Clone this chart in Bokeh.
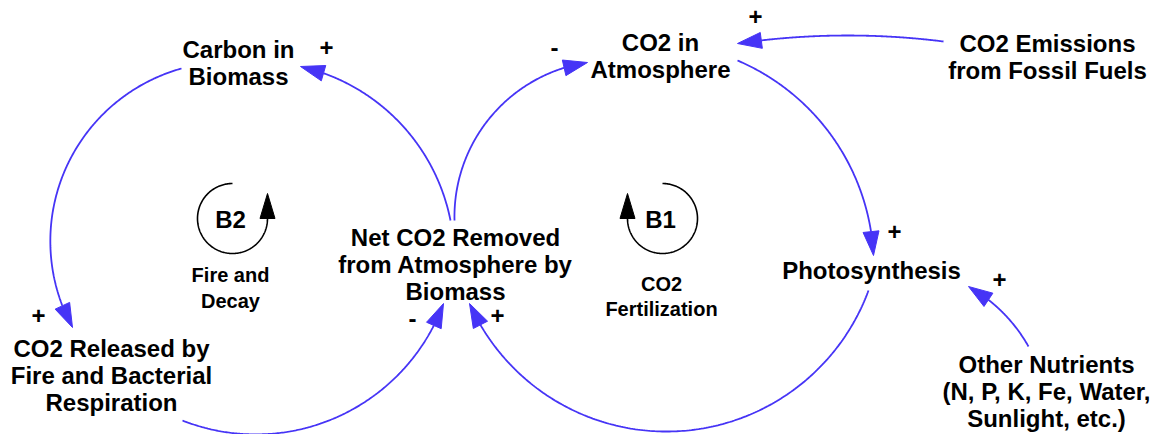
import numpy as np
from bokeh.plotting import figure
from bokeh.models import Range1d
from bokeh.core.properties import value
from bokeh.embed import file_html
from bokeh.resources import INLINE

# ---------------- data (content of the causal loop diagram) ----------------
node_ids = ["carbon", "atm", "emis", "photo", "nutr", "net", "released"]
node_labels = [
    "Carbon in\nBiomass",
    "CO2 in\nAtmosphere",
    "CO2 Emissions\nfrom Fossil Fuels",
    "Photosynthesis",
    "Other Nutrients\n(N, P, K, Fe, Water,\nSunlight, etc.)",
    "Net CO2 Removed\nfrom Atmosphere by\nBiomass",
    "CO2 Released by\nFire and Bacterial\nRespiration",
]
link_source = ["net", "carbon", "released", "net", "atm", "photo", "emis", "nutr"]
link_target = ["carbon", "released", "net", "atm", "photo", "net", "atm", "photo"]
link_polarity = ["+", "+", "-", "-", "+", "+", "+", "+"]
loop_names = ["B2", "B1"]
loop_labels = ["Fire and\nDecay", "CO2\nFertilization"]
loop_turn = ["ccw", "cw"]

# ---------------- layout (screen pixel positions, y downward) ----------------
node_pos = {
    "carbon": (238, 62), "atm": (660, 55), "emis": (1047, 56),
    "photo": (871, 270), "nutr": (1046, 391), "net": (455, 264),
    "released": (111, 375),
}
# start point, a point on the curve, arrow tip
link_geom = [
    ((450, 220), (400, 123), (300, 66)),
    ((181, 68), (50, 233), (72, 327)),
    ((182, 420), (350, 410), (443, 303)),
    ((454, 220), (480, 130), (587, 62)),
    ((737, 60), (853, 173), (873, 255)),
    ((868, 290), (663, 431), (469, 303)),
    ((943, 41), (850, 35), (737, 43)),
    ((1028, 346), (1007, 317), (968, 286)),
]
pol_pos = [(326, 47), (38, 315), (412, 318), (554, 47), (894, 231),
           (497, 315), (755, 16), (999, 279)]
loop_center = [(232, 218), (662, 218)]
loop_radius = 35
loop_name_pos = [(230, 219), (660, 219)]
loop_label_pos = [(230, 287), (661, 295.5)]
loop_label_gap = [26, 25]

BLUE = "#4634f6"
FONT = value("Liberation Sans")
W, H = 1154, 434

p = figure(width=W, height=H, output_backend="svg", toolbar_location=None,
           x_range=Range1d(0, W), y_range=Range1d(H, 0), min_border=0)
p.axis.visible = False
p.grid.visible = False
p.outline_line_color = None
p.background_fill_color = "white"


def circle3(a, b, c):
    ax, ay = a; bx, by = b; cx, cy = c
    d = 2 * (ax * (by - cy) + bx * (cy - ay) + cx * (ay - by))
    ux = ((ax**2 + ay**2) * (by - cy) + (bx**2 + by**2) * (cy - ay) + (cx**2 + cy**2) * (ay - by)) / d
    uy = ((ax**2 + ay**2) * (cx - bx) + (bx**2 + by**2) * (ax - cx) + (cx**2 + cy**2) * (bx - ax)) / d
    return ux, uy, float(np.hypot(ax - ux, ay - uy))


HEAD_LEN, HEAD_HALF = 24, 8
lxs, lys, hxs, hys = [], [], [], []
for (s, m, t) in link_geom:
    ux, uy, r = circle3(s, m, t)
    a1 = np.arctan2(s[1] - uy, s[0] - ux)
    a2 = np.arctan2(m[1] - uy, m[0] - ux)
    a3 = np.arctan2(t[1] - uy, t[0] - ux)
    d13 = (a3 - a1) % (2 * np.pi)
    d12 = (a2 - a1) % (2 * np.pi)
    sweep = d13 if d12 < d13 else d13 - 2 * np.pi
    sgn = np.sign(sweep)
    a_end = a1 + sweep
    a_base = a_end - sgn * HEAD_LEN / r
    ang = np.linspace(a1, a_base, 200)
    lxs.append(list(ux + r * np.cos(ang)))
    lys.append(list(uy + r * np.sin(ang)))
    bx, by = ux + r * np.cos(a_base), uy + r * np.sin(a_base)
    dx, dy = t[0] - bx, t[1] - by
    n = np.hypot(dx, dy)
    px, py = -dy / n, dx / n
    hxs.append([t[0], bx + px * HEAD_HALF, bx - px * HEAD_HALF])
    hys.append([t[1], by + py * HEAD_HALF, by - py * HEAD_HALF])

p.multi_line(lxs, lys, line_color=BLUE, line_width=1.8)
p.patches(hxs, hys, fill_color=BLUE, line_color=BLUE, line_width=1)

# loop markers
cxs, cys, ahx, ahy = [], [], [], []
for (c, turn) in zip(loop_center, loop_turn):
    if turn == "ccw":
        ang = np.linspace(-np.pi / 2, -2 * np.pi, 200)
    else:
        ang = np.linspace(-np.pi / 2, np.pi, 200)
    xs = c[0] + loop_radius * np.cos(ang)
    ys = c[1] + loop_radius * np.sin(ang)
    cxs.append(list(xs)); cys.append(list(ys))
    ex, ey = xs[-1], ys[-1]
    ahx.append([ex, ex - 7.5, ex + 7.5])
    ahy.append([ey - 25, ey, ey])
p.multi_line(cxs, cys, line_color="black", line_width=1.6)
p.patches(ahx, ahy, fill_color="black", line_color="black", line_width=1)

# node labels
LINE_H = 27
tx, ty, tt = [], [], []
for nid, lab in zip(node_ids, node_labels):
    cx, cy = node_pos[nid]
    rows = lab.split("\n")
    for i, row in enumerate(rows):
        tx.append(cx)
        ty.append(cy + (i - (len(rows) - 1) / 2) * LINE_H)
        tt.append(row)
p.text(tx, ty, text=tt, text_font=FONT, text_font_style="bold",
       text_font_size="24px", text_align="center", text_baseline="middle",
       text_color="black")

# polarity signs
p.text([q[0] for q in pol_pos], [q[1] for q in pol_pos], text=link_polarity,
       text_font=FONT, text_font_style="bold", text_font_size="24px",
       text_align="center", text_baseline="middle", text_color="black")

# loop names and descriptions
p.text([q[0] for q in loop_name_pos], [q[1] for q in loop_name_pos], text=loop_names,
       text_font=FONT, text_font_style="bold", text_font_size="24px",
       text_align="center", text_baseline="middle", text_color="black")
sx, sy, st = [], [], []
for (c, lab, gap) in zip(loop_label_pos, loop_labels, loop_label_gap):
    rows = lab.split("\n")
    for i, row in enumerate(rows):
        sx.append(c[0])
        sy.append(c[1] + (i - (len(rows) - 1) / 2) * gap)
        st.append(row)
p.text(sx, sy, text=st, text_font=FONT, text_font_style="bold",
       text_font_size="20px", text_align="center", text_baseline="middle",
       text_color="black")

open("out.html", "w").write(file_html(p, INLINE))
